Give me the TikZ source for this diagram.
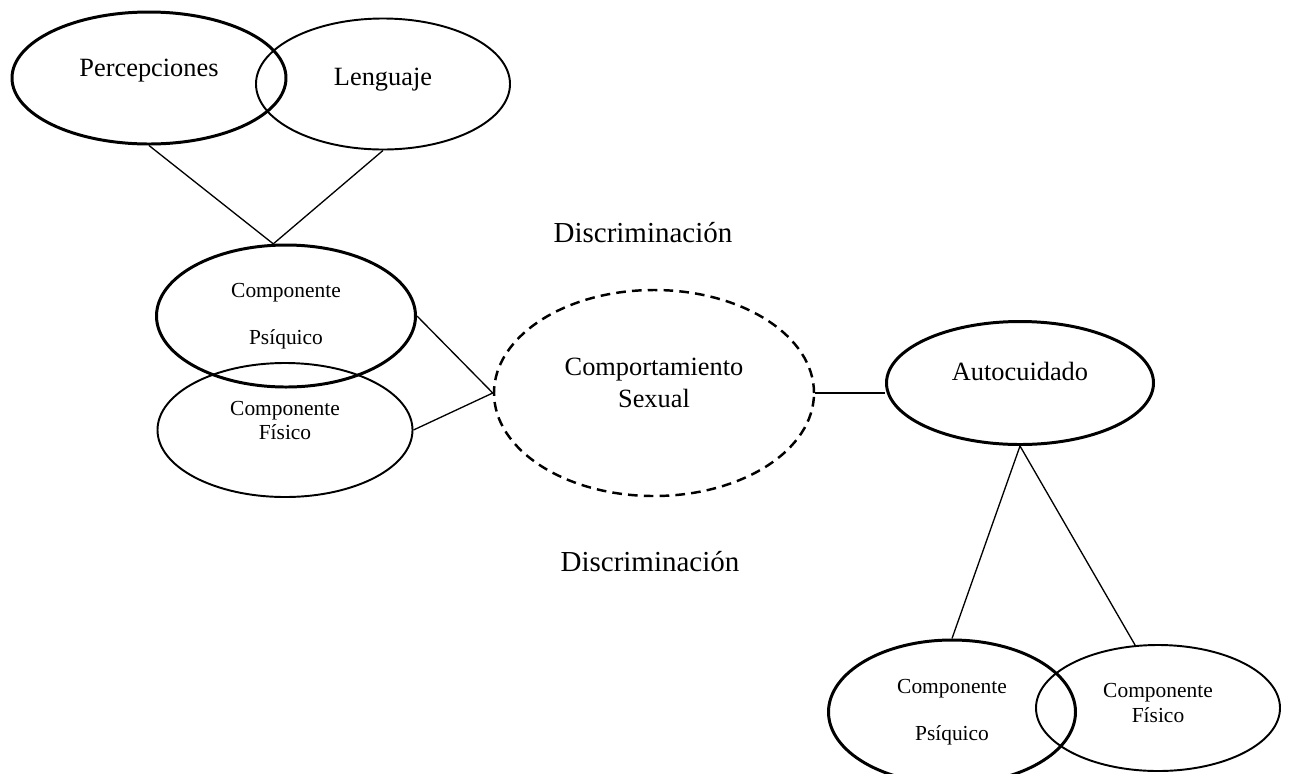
\documentclass[tikz,border=0pt]{standalone}
\usepackage{fontspec}
\setmainfont{Liberation Serif}
\usepackage{tikz}
\usetikzlibrary{shapes.geometric}

\begin{document}
\begin{tikzpicture}[scale=1]

	\tikzstyle bold bubble=[draw, ellipse, line width=1.7pt, inner sep=0pt];
	\tikzstyle thin bubble=[draw, ellipse, line width=1.1pt, inner sep=0pt];
	\tikzstyle dashed bubble=[draw, ellipse, line width=1.4pt, dash pattern=on 5.5pt off 3.5pt, inner sep=0pt];
	\tikzstyle link lines=[line width=0.75pt];
	\tikzstyle big text=[font=\fontsize{15}{18.2}\selectfont, align=center];
	\tikzstyle small text=[font=\fontsize{12.2}{14.2}\selectfont, align=center];

	\useasboundingbox (0,0) rectangle (25.8,-15.46);

	% upper left group
	\node[bold bubble, minimum width=5.48cm, minimum height=2.64cm,
		label={[big text, yshift=4.5pt]center:Percepciones}] (perc) at (2.98,-1.56) {};
	\node[thin bubble, minimum width=5.08cm, minimum height=2.62cm,
		label={[big text, yshift=2.3pt]center:Lenguaje}] (leng) at (7.66,-1.68) {};
	\node[bold bubble, minimum width=5.18cm, minimum height=2.84cm,
		label={[small text]center:Componente\\[12.5pt]Psíquico}] (psiL) at (5.72,-6.32) {};
	\node[thin bubble, minimum width=5.10cm, minimum height=2.68cm,
		label={[small text, yshift=5.4pt]center:Componente\\Físico}] (fisL) at (5.70,-8.60) {};

	% centre and right
	\node[dashed bubble, minimum width=6.40cm, minimum height=4.12cm,
		label={[big text, yshift=5.7pt]center:Comportamiento\\Sexual}] (comp) at (13.08,-7.86) {};
	\node[bold bubble, minimum width=5.34cm, minimum height=2.46cm,
		label={[big text, yshift=6.3pt]center:Autocuidado}] (auto) at (20.40,-7.66) {};
	\node[bold bubble, minimum width=4.94cm, minimum height=2.88cm,
		label={[small text]center:Componente\\[12.5pt]Psíquico}] (psiR) at (19.04,-14.24) {};
	\node[thin bubble, minimum width=4.88cm, minimum height=2.52cm,
		label={[small text, yshift=3.1pt]center:Componente\\Físico}] (fisR) at (23.16,-14.16) {};

	\node[font=\fontsize{16.5}{19}\selectfont] (disc1) at (12.86,-4.66) {Discriminación};
	\node[font=\fontsize{16.5}{19}\selectfont] (disc2) at (13.00,-11.24) {Discriminación};

	\draw[link lines] (perc.south) -- (psiL.100) -- (leng.south);
	\draw[link lines] (psiL.east) -- (comp.west) -- (fisL.east);
	\draw[link lines] (comp.east) -- (auto.west |- comp.east);
	\draw[link lines] (psiR.north) -- (auto.south) -- (fisR.110);

\end{tikzpicture}
\end{document}
